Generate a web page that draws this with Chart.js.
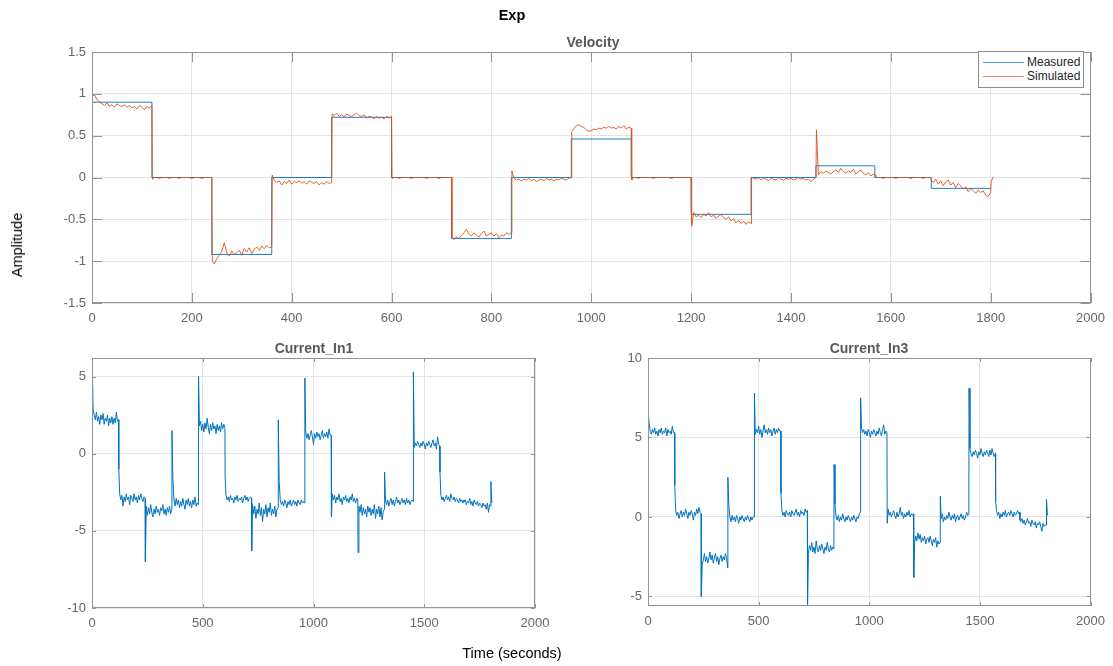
<!DOCTYPE html>
<html>
<head>
<meta charset="utf-8">
<title>Exp</title>
<script src="https://cdn.jsdelivr.net/npm/chart.js@4.4.1/dist/chart.umd.min.js"></script>
<style>
    body { margin: 0; background: #fff; width: 1113px; height: 666px; position: relative; overflow: hidden;
           font-family: "Liberation Sans", Arial, Helvetica, sans-serif; }
    canvas { position: absolute; left: 0; top: 0; }
    .lbl { position: absolute; white-space: nowrap; transform: translate(-50%, -50%); }
    .ttl { font-weight: bold; font-size: 14px; color: #595959; }
    #legend { position: absolute; left: 978px; top: 51px; width: 104px; height: 35px; border: 1px solid #8c8c8c;
              background: #fff; font-size: 12px; color: #262626; }
    #legend .item { position: absolute; left: 0; height: 14px; line-height: 14px; }
    #legend .swatch { position: absolute; left: 4px; top: 7px; width: 41px; height: 1px; opacity: 0.7; }
    #legend .text { position: absolute; left: 48px; top: 0; }
</style>
</head>
<body>
<canvas id="velocityChart" width="1113" height="666"></canvas>
<canvas id="in1Chart" width="1113" height="666"></canvas>
<canvas id="in3Chart" width="1113" height="666"></canvas>

<div class="lbl" style="left:512px;top:15px;font-weight:bold;font-size:14.5px;color:#000">Exp</div>
<div class="lbl ttl" style="left:593px;top:42px">Velocity</div>
<div class="lbl ttl" style="left:314px;top:348px">Current_In1</div>
<div class="lbl ttl" style="left:869px;top:348px">Current_In3</div>
<div class="lbl" style="left:512px;top:653px;font-size:14.5px;color:#000">Time (seconds)</div>
<div class="lbl" style="left:17px;top:245px;font-size:14.5px;color:#000;transform:translate(-50%,-50%) rotate(-90deg)">Amplitude</div>
<div id="legend"></div>

<script>
// sample times (s), shared by the noisy signals
const time = [
    0,1,5,10,15,20,25,30,35,40,45,50,55,60,65,70,75,80,85,90,95,100,105,110,115,
    120,121,125,130,135,140,145,150,155,160,165,170,175,180,185,190,195,200,205,210,215,220,225,230,235,
    240,241,245,250,255,260,265,270,275,280,285,290,295,300,305,310,315,320,325,330,335,340,345,350,355,
    360,361,365,370,375,380,385,390,395,400,405,410,415,420,425,430,435,440,445,450,455,460,465,470,475,
    480,481,485,490,495,500,505,510,515,520,525,530,535,540,545,550,555,560,565,570,575,580,585,590,595,
    600,601,605,610,615,620,625,630,635,640,645,650,655,660,665,670,675,680,685,690,695,700,705,710,715,
    720,721,725,730,735,740,745,750,755,760,765,770,775,780,785,790,795,800,805,810,815,820,825,830,835,
    840,841,845,850,855,860,865,870,875,880,885,890,895,900,905,910,915,920,925,930,935,940,945,950,955,
    960,961,965,970,975,980,985,990,995,1000,1005,1010,1015,1020,1025,1030,1035,1040,1045,1050,1055,1060,1065,1070,1075,
    1080,1081,1085,1090,1095,1100,1105,1110,1115,1120,1125,1130,1135,1140,1145,1150,1155,1160,1165,1170,1175,1180,1185,1190,1195,
    1200,1201,1205,1210,1215,1220,1225,1230,1235,1240,1245,1250,1255,1260,1265,1270,1275,1280,1285,1290,1295,1300,1305,1310,1315,
    1320,1321,1325,1330,1335,1340,1345,1350,1355,1360,1365,1370,1375,1380,1385,1390,1395,1400,1405,1410,1415,1420,1425,1430,1435,1440,1445,
    1450,1451,1455,1460,1465,1470,1475,1480,1485,1490,1495,1500,1505,1510,1515,1520,1525,1530,1535,1540,1545,1550,1555,1560,1565,
    1570,1571,1575,1580,1585,1590,1595,1600,1605,1610,1615,1620,1625,1630,1635,1640,1645,1650,1655,1660,1665,1670,1675,
    1680,1681,1685,1690,1695,1700,1705,1710,1715,1720,1725,1730,1735,1740,1745,1750,1755,1760,1765,1770,1775,1780,1785,1790,1795,
    1800,1801,1805
];

// Velocity, simulated
const simulatedVelocity = [
    0,0.97,0.99,0.93,0.90,0.88,0.86,0.89,0.85,0.87,0.84,0.88,0.86,0.85,0.87,0.84,0.86,0.83,0.85,0.82,0.86,0.84,0.81,0.85,0.83,
    0.86,-0.02,0,0,-0.01,0,0,0,-0.01,0,0,0,-0.01,0,0,0,0,-0.01,0,0,0,-0.01,0,0,0,
    0,-1.0,-1.03,-0.97,-0.93,-0.88,-0.78,-0.90,-0.94,-0.88,-0.92,-0.90,-0.87,-0.93,-0.85,-0.89,-0.84,-0.91,-0.86,-0.83,-0.87,-0.82,-0.85,-0.81,-0.84,
    -0.83,0.03,-0.03,-0.06,-0.04,-0.09,-0.05,-0.07,-0.03,-0.08,-0.05,-0.06,-0.04,-0.07,-0.05,-0.08,-0.04,-0.06,-0.07,-0.05,-0.09,-0.06,-0.08,-0.05,-0.07,
    -0.06,0.76,0.74,0.77,0.73,0.75,0.72,0.76,0.74,0.73,0.75,0.77,0.74,0.73,0.75,0.71,0.73,0.72,0.70,0.73,0.71,0.72,0.70,0.73,0.71,
    0.73,-0.01,0,0,-0.01,0,0,0,0,-0.01,0,0,0,0,0,-0.01,0,0,0,0,-0.01,0,0,0,0,
    0,-0.70,-0.74,-0.71,-0.73,-0.69,-0.66,-0.62,-0.68,-0.70,-0.66,-0.69,-0.71,-0.67,-0.64,-0.70,-0.68,-0.66,-0.70,-0.67,-0.72,-0.69,-0.70,-0.66,-0.68,
    -0.66,0.08,-0.01,-0.03,-0.02,-0.04,-0.02,-0.03,-0.01,-0.04,-0.02,-0.05,-0.03,-0.02,-0.04,-0.01,-0.03,-0.02,-0.04,-0.02,-0.03,-0.01,-0.02,-0.03,-0.01,
    0,0.55,0.58,0.62,0.63,0.61,0.60,0.57,0.55,0.56,0.58,0.57,0.59,0.58,0.60,0.59,0.61,0.59,0.60,0.58,0.61,0.59,0.62,0.58,0.60,
    0.59,-0.03,0,0,-0.01,0,0,0,0,0,-0.01,0,0,0,0,0,0,-0.01,0,0,0,0,0,0,0,
    0,-0.58,-0.42,-0.47,-0.45,-0.48,-0.44,-0.46,-0.42,-0.47,-0.45,-0.49,-0.46,-0.44,-0.48,-0.50,-0.47,-0.52,-0.49,-0.54,-0.51,-0.55,-0.52,-0.56,-0.53,
    -0.55,0,-0.01,-0.02,0,-0.03,-0.01,-0.02,-0.04,-0.01,-0.02,-0.03,0,-0.02,-0.03,-0.01,-0.02,-0.01,-0.03,-0.02,0,-0.02,-0.01,-0.03,-0.02,-0.05,-0.02,
    0,0.57,0.03,0.07,0.05,0.08,0.06,0.04,0.07,0.09,0.06,0.11,0.07,0.05,0.08,0.06,0.10,0.04,0.07,0.09,0.05,0.03,0.06,0.02,0.04,
    0.03,0,0,0,-0.01,0,0,0,0,-0.01,0,0,0,0,0,-0.01,0,0,0,0,-0.01,0,0,
    0,-0.03,-0.06,-0.02,-0.08,-0.04,-0.10,-0.05,-0.03,-0.09,-0.06,-0.12,-0.07,-0.10,-0.14,-0.11,-0.17,-0.13,-0.16,-0.19,-0.15,-0.18,-0.16,-0.21,-0.23,
    -0.18,-0.05,0.01
];

// Velocity, measured (piecewise constant: value holds from each time to the next)
const measuredTime = [0, 1, 120, 240, 360, 480, 600, 720, 840, 960, 1080, 1200, 1320, 1450, 1568, 1681, 1800];
const measuredVelocity = [0, 0.9, 0, -0.92, 0, 0.72, 0, -0.73, 0, 0.46, 0, -0.44, 0, 0.14, 0, -0.13, -0.13];

const currentIn1 = [
    -3.0,6.0,2.9,2.5,2.2,2.7,2.1,2.4,1.9,2.5,2.2,2.6,1.9,2.3,2.1,2.5,1.8,2.3,2.0,2.4,1.9,2.3,2.0,2.7,2.1,
    2.2,-1.0,-2.6,-3.0,-2.7,-3.4,-2.8,-3.1,-2.6,-3.0,-2.8,-3.3,-2.7,-2.9,-3.1,-2.6,-3.0,-2.8,-3.2,-2.7,-3.0,-2.6,-2.9,-3.1,-2.8,
    -2.9,-7.0,-3.4,-4.0,-3.5,-3.9,-3.3,-3.8,-4.1,-3.6,-3.9,-3.4,-3.8,-3.6,-4.0,-3.5,-3.7,-3.3,-3.9,-3.6,-4.0,-3.5,-3.8,-3.4,-3.9,
    -3.6,1.5,-1.6,-3.0,-3.4,-2.9,-3.3,-3.0,-3.5,-3.1,-3.4,-2.9,-3.3,-3.6,-3.0,-3.3,-2.9,-3.4,-3.1,-3.5,-3.0,-3.3,-2.8,-3.4,-3.2,
    -3.3,5.0,1.8,2.1,1.5,1.9,1.4,2.0,1.6,2.3,1.7,1.3,1.9,1.5,2.0,1.6,1.8,1.3,1.9,1.5,1.8,1.4,2.0,1.6,1.9,
    1.7,-1.5,-2.7,-3.0,-2.8,-3.1,-2.7,-3.0,-2.9,-3.2,-2.8,-3.0,-2.7,-3.1,-2.9,-3.0,-2.8,-3.2,-2.9,-2.7,-3.0,-2.8,-3.1,-2.9,-2.8,
    -2.9,-6.3,-3.3,-3.9,-3.4,-4.2,-3.6,-3.9,-3.2,-4.0,-3.5,-4.4,-3.6,-3.9,-3.3,-4.1,-3.5,-3.8,-3.2,-4.0,-3.6,-3.9,-3.4,-4.1,-3.6,
    -3.5,2.2,-1.8,-3.0,-3.3,-3.1,-3.4,-3.0,-3.2,-3.5,-3.1,-3.3,-3.0,-3.4,-3.2,-3.0,-3.3,-3.1,-3.4,-3.0,-3.2,-3.3,-3.0,-3.2,-3.1,
    -3.2,4.9,1.4,1.0,1.3,0.9,1.2,1.5,1.1,0.6,1.3,1.0,1.4,1.1,1.3,0.9,1.2,1.5,1.0,1.3,1.1,1.4,1.0,1.6,1.2,
    1.2,-4.1,-2.6,-3.0,-2.7,-3.2,-2.8,-3.0,-2.6,-3.1,-2.9,-3.3,-2.8,-3.0,-2.7,-3.1,-2.9,-3.2,-2.8,-3.0,-2.6,-3.1,-2.9,-3.2,-2.9,
    -3.0,-6.4,-3.4,-3.8,-3.3,-4.0,-3.5,-3.9,-3.6,-4.1,-3.4,-3.8,-3.5,-4.0,-3.6,-3.9,-3.3,-4.2,-3.6,-3.9,-3.4,-4.1,-3.5,-4.3,-3.7,
    -3.6,-1.2,-3.0,-3.3,-3.0,-3.4,-3.1,-2.9,-3.3,-3.0,-3.4,-3.1,-2.8,-3.2,-3.0,-3.3,-3.1,-2.9,-3.2,-3.0,-3.3,-2.9,-3.2,-3.0,-3.3,-3.1,-3.0,
    -3.1,5.3,0.4,0.7,0.5,0.8,0.6,0.4,0.7,0.5,0.8,0.6,0.3,0.7,0.5,0.8,0.6,0.4,0.7,0.9,0.5,0.7,0.3,1.1,0.6,
    0.5,-1.2,-2.7,-3.0,-2.8,-3.1,-2.9,-2.7,-3.0,-2.8,-3.1,-2.6,-2.9,-3.0,-2.8,-3.1,-2.9,-3.0,-3.2,-2.9,-3.1,-3.0,-3.2,
    -3.0,-3.1,-3.0,-3.3,-3.1,-3.2,-2.9,-3.3,-3.1,-3.4,-3.0,-3.2,-3.3,-3.1,-3.4,-3.2,-3.3,-3.5,-3.2,-3.4,-3.3,-3.6,-3.2,-3.8,-3.3,
    -3.4,-1.8,-3.2
];

const currentIn3 = [
    0.2,6.6,5.9,5.4,5.2,5.5,5.3,5.6,5.2,5.4,5.1,5.5,5.3,5.6,5.2,5.4,5.3,5.6,5.1,5.5,5.3,5.4,5.2,5.7,5.3,
    5.3,2.0,0.4,0.1,0.3,-0.1,0.2,0.4,0.0,0.3,0.1,0.5,0.2,-0.1,0.3,0.1,0.4,0.2,-0.2,0.3,0.1,0.5,0.2,0.6,0.3,
    0.2,-5.0,-3.0,-2.7,-2.3,-2.8,-2.5,-2.9,-2.6,-2.2,-2.7,-2.4,-2.9,-2.6,-2.3,-2.8,-2.5,-3.0,-2.6,-2.4,-2.8,-2.5,-2.7,-2.3,-2.6,
    -3.2,2.5,0.8,0.0,-0.3,0.1,-0.2,0.0,-0.3,0.1,-0.1,-0.4,0.0,-0.2,0.1,-0.1,-0.3,0.0,-0.2,0.1,-0.1,-0.3,0.0,-0.2,0.0,
    0.0,7.8,5.2,5.5,5.3,5.7,5.2,5.5,5.0,5.4,5.8,5.3,5.5,5.2,5.6,5.3,5.5,5.1,5.4,5.6,5.2,5.5,5.3,5.6,5.4,
    5.4,1.5,0.4,0.1,0.3,0.0,0.4,0.2,0.1,0.3,0.0,0.4,0.2,0.1,0.3,0.5,0.1,0.3,0.0,0.4,0.2,0.3,0.1,0.5,0.3,
    0.4,-5.6,-2.3,-1.8,-2.1,-1.6,-2.2,-1.9,-2.3,-1.5,-2.0,-2.2,-1.8,-2.1,-1.7,-2.0,-2.3,-1.9,-2.1,-1.6,-2.0,-2.2,-1.8,-2.1,-1.9,
    -2.0,3.3,0.8,0.0,-0.2,0.1,-0.3,0.0,-0.2,0.2,-0.1,-0.3,0.0,-0.2,0.1,-0.1,-0.3,0.0,-0.2,0.1,-0.1,-0.3,0.0,-0.1,0.2,
    0.3,7.5,5.6,5.3,5.5,5.2,5.4,5.1,5.5,5.3,5.0,5.4,5.2,5.5,5.3,5.1,5.4,5.2,5.6,5.3,5.1,5.5,5.8,5.2,5.4,
    5.3,-0.4,0.5,0.1,0.3,0.0,0.2,0.4,0.1,-0.1,0.3,0.0,0.2,0.6,0.1,0.3,-0.1,0.2,0.0,0.3,0.1,0.4,0.0,0.2,0.1,
    0.2,-3.8,-1.6,-1.2,-1.5,-1.0,-1.4,-1.1,-1.6,-1.3,-1.5,-1.2,-1.7,-1.4,-1.3,-1.6,-1.2,-1.5,-1.8,-1.4,-1.6,-1.3,-1.9,-1.5,-1.7,
    -1.6,1.3,-0.1,0.2,-0.3,0.0,-0.2,0.1,-0.1,0.3,0.0,-0.2,0.1,-0.1,0.2,-0.3,0.0,0.1,-0.2,0.0,0.2,-0.1,0.1,-0.2,0.0,0.3,0.1,
    0.2,8.1,4.3,4.0,3.8,4.1,3.9,4.2,4.0,3.7,4.1,3.9,4.3,4.0,3.8,4.1,3.9,4.2,4.0,3.8,4.2,3.9,4.3,4.0,3.8,
    4.0,1.0,0.4,0.1,0.3,-0.1,0.2,0.0,0.3,0.1,0.4,0.0,0.2,0.3,0.1,0.4,0.2,0.0,0.3,0.1,0.2,0.4,0.2,
    0.3,-0.2,-0.3,-0.1,-0.4,-0.2,-0.5,-0.3,-0.1,-0.4,-0.3,-0.6,-0.2,-0.4,-0.5,-0.3,-0.7,-0.4,-0.5,-0.3,-0.6,-0.9,-0.4,-0.6,-0.5,
    -0.5,1.1,0.1
];

// axis ticks
const velocityXTicks = [0, 200, 400, 600, 800, 1000, 1200, 1400, 1600, 1800, 2000];
const velocityYTicks = [-1.5, -1, -0.5, 0, 0.5, 1, 1.5];
const currentXTicks = [0, 500, 1000, 1500, 2000];
const in1YTicks = [-10, -5, 0, 5];
const in3YTicks = [-5, 0, 5, 10];

const seriesNames = ['Measured', 'Simulated'];
const blue = '#0072BD';
const orange = '#D95319';
const gridColor = '#e4e4e4';
const boxColor = '#949494';

Chart.defaults.font.family = '"Liberation Sans", Arial, Helvetica, sans-serif';
Chart.defaults.font.size = 13;
Chart.defaults.color = '#666666';

function toPoints(xs, ys) {
    if (xs.length !== ys.length) console.warn('length mismatch', xs.length, ys.length);
    return xs.map((x, i) => ({ x: x, y: ys[i] }));
}

// draws the closed axes box and the inward tick marks, like MATLAB does
const boxPlugin = {
    id: 'axesBox',
    afterDatasetsDraw(chart, args, opts) {
        const { ctx, chartArea: a, scales } = chart;
        const len = opts.tickLength || 5;
        ctx.save();
        ctx.strokeStyle = boxColor;
        ctx.lineWidth = 1;
        ctx.beginPath();
        scales.x.ticks.forEach(t => {
            const px = Math.round(scales.x.getPixelForValue(t.value)) + 0.5;
            ctx.moveTo(px, a.bottom); ctx.lineTo(px, a.bottom - len);
            ctx.moveTo(px, a.top); ctx.lineTo(px, a.top + len);
        });
        scales.y.ticks.forEach(t => {
            const py = Math.round(scales.y.getPixelForValue(t.value)) + 0.5;
            ctx.moveTo(a.left, py); ctx.lineTo(a.left + len, py);
            ctx.moveTo(a.right, py); ctx.lineTo(a.right - len, py);
        });
        ctx.stroke();
        ctx.strokeRect(Math.round(a.left) + 0.5, Math.round(a.top) + 0.5,
            Math.round(a.right - a.left) - 1, Math.round(a.bottom - a.top) - 1);
        ctx.restore();
    }
};

function buildOptions(cfg) {
    return {
        responsive: false,
        animation: false,
        events: [],
        layout: { padding: cfg.padding },
        elements: { point: { radius: 0 }, line: { borderWidth: 1, tension: 0 } },
        plugins: {
            legend: { display: false },
            title: { display: false },
            tooltip: { enabled: false },
            axesBox: { tickLength: cfg.tickLength }
        },
        scales: {
            x: {
                type: 'linear',
                min: 0,
                max: 2000,
                afterBuildTicks: s => { s.ticks = cfg.xTicks.map(v => ({ value: v })); },
                afterFit: s => { s.height = 30; },
                grid: { color: gridColor, drawTicks: false },
                border: { display: false },
                ticks: { padding: 8, maxRotation: 0, autoSkip: false, callback: v => String(v) }
            },
            y: {
                type: 'linear',
                min: cfg.yMin,
                max: cfg.yMax,
                afterBuildTicks: s => { s.ticks = cfg.yTicks.map(v => ({ value: v })); },
                afterFit: s => { s.width = 40; },
                grid: { color: gridColor, drawTicks: false },
                border: { display: false },
                ticks: { padding: 6, autoSkip: false, callback: v => String(v) }
            }
        }
    };
}

new Chart(document.getElementById('velocityChart'), {
    type: 'line',
    data: {
        datasets: [
            {
                label: seriesNames[0],
                data: toPoints(measuredTime, measuredVelocity),
                borderColor: blue,
                borderWidth: 0.9,
                stepped: true,
                order: 1
            },
            {
                label: seriesNames[1],
                data: toPoints(time, simulatedVelocity),
                borderColor: orange,
                borderWidth: 0.9,
                order: 0
            }
        ]
    },
    options: buildOptions({
        padding: { left: 52, right: 19, top: 52, bottom: 333 },
        xTicks: velocityXTicks, yTicks: velocityYTicks,
        yMin: -1.5, yMax: 1.5, tickLength: 10
    }),
    plugins: [boxPlugin]
});

new Chart(document.getElementById('in1Chart'), {
    type: 'line',
    data: {
        datasets: [{ label: 'Current_In1', data: toPoints(time, currentIn1), borderColor: blue }]
    },
    options: buildOptions({
        padding: { left: 52, right: 578, top: 358, bottom: 28 },
        xTicks: currentXTicks, yTicks: in1YTicks,
        yMin: -10, yMax: 6.2, tickLength: 4
    }),
    plugins: [boxPlugin]
});

new Chart(document.getElementById('in3Chart'), {
    type: 'line',
    data: {
        datasets: [{ label: 'Current_In3', data: toPoints(time, currentIn3), borderColor: blue }]
    },
    options: buildOptions({
        padding: { left: 608, right: 22, top: 358, bottom: 30 },
        xTicks: currentXTicks, yTicks: in3YTicks,
        yMin: -5.6, yMax: 10, tickLength: 4
    }),
    plugins: [boxPlugin]
});

// legend for the velocity axes
const legend = document.getElementById('legend');
[blue, orange].forEach((color, i) => {
    const item = document.createElement('div');
    item.className = 'item';
    item.style.top = (3 + i * 14) + 'px';
    item.innerHTML = '<span class="swatch" style="background:' + color + '"></span><span class="text">' + seriesNames[i] + '</span>';
    legend.appendChild(item);
});
</script>
</body>
</html>
